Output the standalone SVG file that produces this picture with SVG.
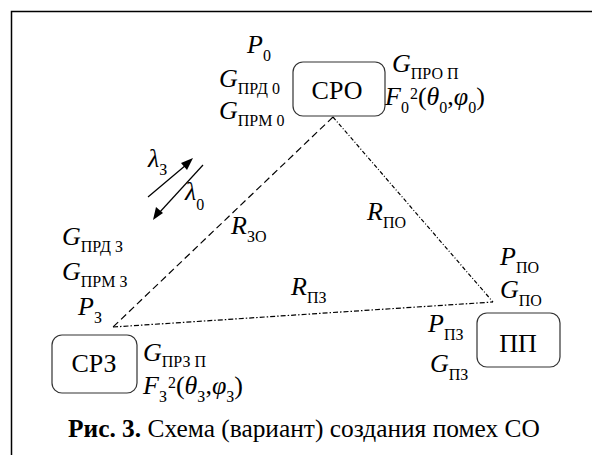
<svg xmlns="http://www.w3.org/2000/svg" width="592" height="455" viewBox="0 0 592 455">
<style>
text{font-family:"Liberation Serif","Times New Roman",serif;fill:#000}
.t{font-size:26px}
.i{font-style:italic}
.s{font-size:16px}
.box{fill:#fff;stroke:#333;stroke-width:1.2}
.ln{fill:none;stroke:#000;stroke-width:1.2}
</style>
<rect width="592" height="455" fill="#fff"/>
<path d="M11.5 455V11.5H592" fill="none" stroke="#000" stroke-width="1.5"/>
<g id="connectors">
<line class="ln" x1="333" y1="117" x2="113" y2="327" stroke-dasharray="7,4"/>
<line class="ln" x1="333" y1="117" x2="493" y2="302" stroke-dasharray="4,2,1,2" stroke-width="1"/>
<line class="ln" x1="113" y1="327" x2="493" y2="302" stroke-dasharray="5,2,1.5,2"/>
<line class="ln" x1="148" y1="197" x2="186" y2="165" stroke-width="1"/>
<path d="M193 158 L181 163 L187 170 Z"/>
<line class="ln" x1="203" y1="165" x2="159" y2="213" stroke-width="1"/>
<path d="M153 220 L156 207 L163 213 Z"/>
</g>
<g id="cro">
<rect class="box" x="293" y="62" width="92" height="54" rx="10"/>
<text class="t" x="337" y="99" text-anchor="middle">СРО</text>
<text class="t" x="247" y="53"><tspan class="i">P</tspan><tspan class="s" dy="8">0</tspan></text>
<text class="t" x="219" y="87"><tspan class="i">G</tspan><tspan class="s" dy="7">ПРД 0</tspan></text>
<text class="t" x="219" y="119"><tspan class="i">G</tspan><tspan class="s" dy="7">ПРМ 0</tspan></text>
<text class="t" x="392" y="72"><tspan class="i">G</tspan><tspan class="s" dy="7">ПРО П</tspan></text>
<text class="t" x="385" y="105"><tspan class="i">F</tspan><tspan class="s" dy="8">0</tspan><tspan class="s" dy="-14" dx="1">2</tspan><tspan dy="6">(</tspan><tspan class="i">θ</tspan><tspan class="s" dy="8">0</tspan><tspan dy="-8">,</tspan><tspan class="i">φ</tspan><tspan class="s" dy="8">0</tspan><tspan dy="-8">)</tspan></text>
</g>
<g id="crz">
<rect class="box" x="52" y="335" width="85" height="58" rx="10"/>
<text class="t" x="94" y="372" text-anchor="middle">СРЗ</text>
<text class="t" x="62" y="245"><tspan class="i">G</tspan><tspan class="s" dy="7">ПРД З</tspan></text>
<text class="t" x="62" y="280"><tspan class="i">G</tspan><tspan class="s" dy="7">ПРМ З</tspan></text>
<text class="t" x="78" y="315"><tspan class="i">P</tspan><tspan class="s" dy="8">З</tspan></text>
<text class="t" x="143" y="361"><tspan class="i">G</tspan><tspan class="s" dy="6">ПРЗ П</tspan></text>
<text class="t" x="143" y="394"><tspan class="i">F</tspan><tspan class="s" dy="8">З</tspan><tspan class="s" dy="-14" dx="1">2</tspan><tspan dy="6">(</tspan><tspan class="i">θ</tspan><tspan class="s" dy="8">З</tspan><tspan dy="-8">,</tspan><tspan class="i">φ</tspan><tspan class="s" dy="8">З</tspan><tspan dy="-8">)</tspan></text>
</g>
<g id="pp">
<rect class="box" x="477" y="313" width="83" height="54" rx="10"/>
<text class="t" x="518" y="352" text-anchor="middle">ПП</text>
<text class="t" x="500" y="265"><tspan class="i">P</tspan><tspan class="s" dy="8">ПО</tspan></text>
<text class="t" x="500" y="298"><tspan class="i">G</tspan><tspan class="s" dy="8">ПО</tspan></text>
<text class="t" x="428" y="332"><tspan class="i">P</tspan><tspan class="s" dy="8">ПЗ</tspan></text>
<text class="t" x="430" y="372"><tspan class="i">G</tspan><tspan class="s" dy="8">ПЗ</tspan></text>
</g>
<g id="labels">
<text class="t" x="231" y="234"><tspan class="i">R</tspan><tspan class="s" dy="8">ЗО</tspan></text>
<text class="t" x="367" y="220"><tspan class="i">R</tspan><tspan class="s" dy="8">ПО</tspan></text>
<text class="t" x="291" y="295"><tspan class="i">R</tspan><tspan class="s" dy="8">ПЗ</tspan></text>
<text class="t" x="148" y="167"><tspan class="i">λ</tspan><tspan class="s" dy="8">З</tspan></text>
<text class="t" x="185" y="200"><tspan class="i">λ</tspan><tspan class="s" dy="10">0</tspan></text>
</g>
<g id="caption">
<text x="68" y="437" font-size="25.4"><tspan font-weight="bold">Рис. 3.</tspan> Схема (вариант) создания помех СО</text>
</g>
</svg>
